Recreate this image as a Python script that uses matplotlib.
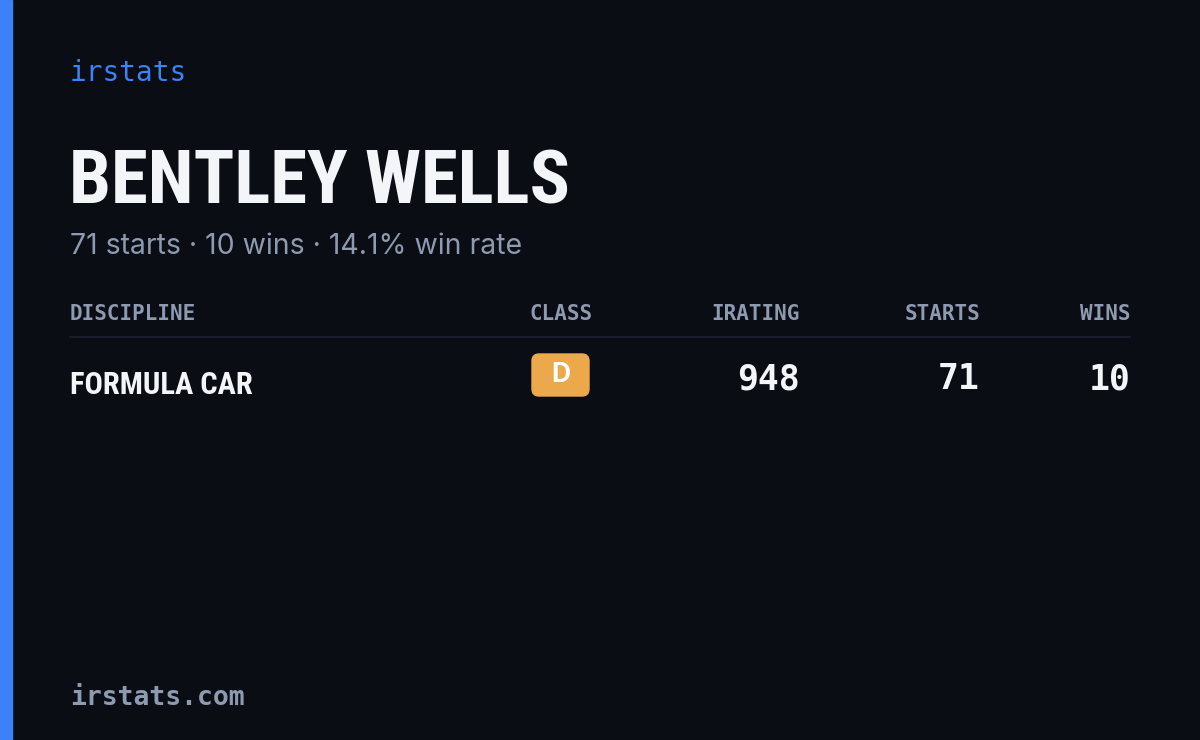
import matplotlib
matplotlib.use("Agg")
import matplotlib.pyplot as plt
from matplotlib.patches import Rectangle, FancyBboxPatch
from matplotlib import font_manager as fm

brand = "irstats"
name = "BENTLEY WELLS"
subtitle = "71 starts · 10 wins · 14.1% win rate"
headers = ["DISCIPLINE", "CLASS", "IRATING", "STARTS", "WINS"]
disciplines = ["FORMULA CAR"]
classes = ["D"]
iratings = [948]
starts = [71]
wins = [10]
footer = "irstats.com"

W, H = 1200, 740
fig = plt.figure(figsize=(12, 7.4), dpi=100)
fig.patch.set_facecolor("#0a0d14")
ax = fig.add_axes([0, 0, 1, 1])
ax.set_xlim(0, W); ax.set_ylim(H, 0); ax.axis("off")
ax.add_patch(Rectangle((0, 0), 12, H, color="#3b82f6"))

names = {f.name for f in fm.fontManager.ttflist}
has_cond = "Roboto Condensed" in names
cond = "Roboto Condensed" if has_cond else "Roboto"
csz = 54 if has_cond else 47
dsz = 22 if has_cond else 19
mono = "DejaVu Sans Mono"
grey = "#8d9ab0"

ax.text(70, 73, brand, color="#3b82f6", fontsize=20, family=mono, va="center")
ax.text(69, 184, name, color="#f3f5f9", fontsize=csz, family=cond, weight="bold", va="center")
ax.text(70, 246, subtitle, color=grey, fontsize=20.5, family="Inter", va="center")

hx = [70, 593, 800, 980, 1130]
ha = ["left", "right", "right", "right", "right"]
for x, h, a in zip(hx, headers, ha):
    ax.text(x, 314, h, color=grey, fontsize=15, family=mono, weight="bold", va="center", ha=a)
ax.plot([70, 1130], [337, 337], color="#1c2230", lw=1.2)

for i, d in enumerate(disciplines):
    y = 382 + i * 60
    ax.text(70, y + 3, d, color="#f3f5f9", fontsize=dsz, family=cond, weight="bold", va="center")
    ax.add_patch(FancyBboxPatch((532, y - 28), 57, 42, boxstyle="round,pad=0,rounding_size=7",
                                color="#eca94b"))
    ax.text(560.5, y - 7, classes[i], color="white", fontsize=19, family="Inter", weight="bold",
            ha="center", va="center")
    for x, v in zip([800, 980, 1130], [iratings[i], starts[i], wins[i]]):
        ax.text(x, y - 3, str(v), color="#f3f5f9", fontsize=25, family=mono, weight="bold",
                ha="right", va="center")

ax.text(70, 698, footer, color=grey, fontsize=19, family=mono, weight="bold", va="center")
fig.savefig("out.png", dpi=100, facecolor=fig.get_facecolor())
